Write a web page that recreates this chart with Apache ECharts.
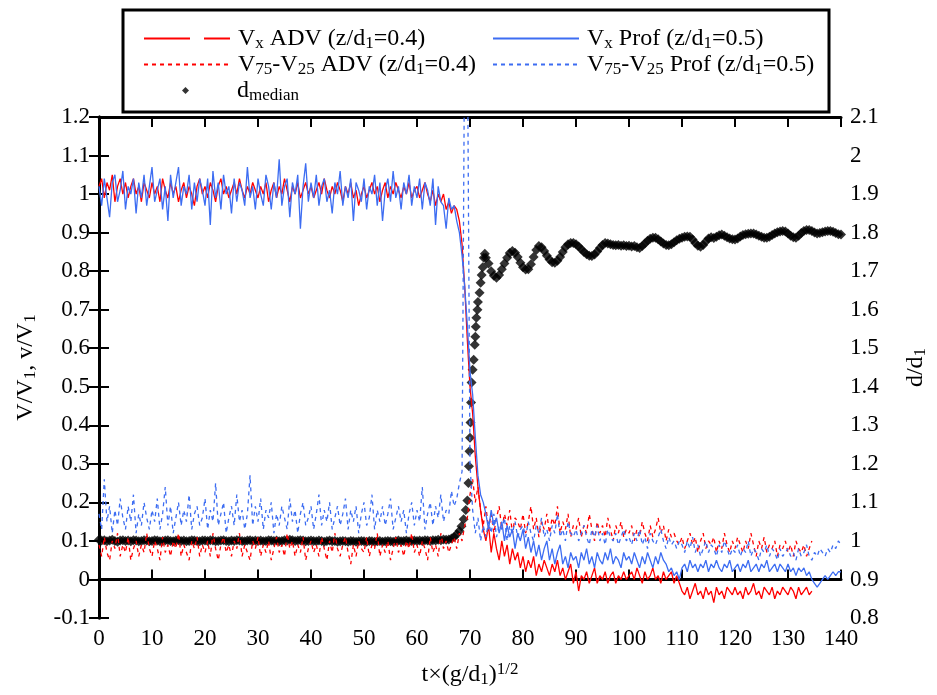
<!DOCTYPE html>
<html lang="en">
<head>
    <meta charset="UTF-8">
    <title>Vx and d/d1 versus time</title>
</head>
<script src="https://cdn.jsdelivr.net/npm/echarts@6/dist/echarts.min.js"></script>
<body style="margin:0">
<div id="main" style="width: 937px;height:695px;"></div>
<script type="text/javascript">
    // sampling of the velocity records: start and step in t(g/d1)^1/2
    var T0 = 0, DT = 0.5;

    // Vx Prof (z/d1=0.5), t = 0 .. 140
    var vxProf = [
        1.02, 0.97, 1.04, 0.99, 0.94, 1.03, 1.05, 0.98, 1.01, 1.06, 0.96, 1.02, 1.00, 1.04, 0.95, 1.03, 0.99, 1.05, 0.97, 1.02,
        1.07, 0.98, 1.01, 1.04, 0.96, 1.02, 0.93, 1.05, 0.99, 1.03, 1.07, 0.97, 1.02, 1.00, 1.05, 0.96, 1.03, 0.98, 1.04, 1.01,
        0.97, 1.04, 0.92, 1.06, 0.99, 1.03, 0.96, 1.05, 1.00, 1.02, 0.95, 1.04, 0.98, 1.03, 1.01, 0.97, 1.07, 0.99, 1.02, 0.96,
        1.04, 1.00, 0.97, 1.05, 1.02, 0.96, 1.03, 0.99, 1.09, 0.97, 1.02, 1.04, 0.94, 1.03, 1.00, 1.05, 0.91, 1.02, 1.08, 0.98,
        1.03, 0.99, 1.05, 0.97, 1.02, 1.04, 0.98, 1.01, 0.95, 1.03, 1.00, 1.06, 0.97, 1.02, 0.99, 1.04, 0.93, 1.03, 1.01, 0.98,
        1.04, 0.96, 1.02, 1.00, 1.05, 0.97, 1.03, 0.93, 1.01, 1.04, 0.98, 1.06, 0.99, 1.02, 0.96, 1.03, 1.00, 1.05, 0.97, 1.02,
        0.99, 1.04, 0.96, 1.03, 1.01, 0.97, 1.04, 0.92, 1.02, 0.98, 0.97, 0.91, 0.99, 0.96, 0.97, 0.93, 0.90, 0.84, 0.76, 0.66,
        0.54, 0.48, 0.37, 0.27, 0.22, 0.20, 0.17, 0.13, 0.18, 0.14, 0.16, 0.12, 0.15, 0.10, 0.14, 0.11, 0.13, 0.08, 0.12, 0.10,
        0.13, 0.08, 0.11, 0.07, 0.10, 0.06, 0.09, 0.05, 0.08, 0.10, 0.05, 0.08, 0.04, 0.07, 0.09, 0.04, 0.06, 0.03, 0.07, 0.05,
        0.06, 0.03, 0.07, 0.05, 0.08, 0.04, 0.06, 0.03, 0.07, 0.05, 0.04, 0.07, 0.05, 0.08, 0.04, 0.06, 0.05, 0.03, 0.07, 0.05,
        0.06, 0.04, 0.07, 0.05, 0.03, 0.06, 0.04, 0.07, 0.05, 0.03, 0.06, 0.04, 0.07, 0.05, 0.04, 0.02, 0.03, 0.01, 0.02, 0.00,
        0.03, 0.04, 0.02, 0.05, 0.03, 0.04, 0.02, 0.04, 0.03, 0.05, 0.02, 0.04, 0.03, 0.05, 0.03, 0.02, 0.04, 0.03, 0.05, 0.02,
        0.03, 0.04, 0.02, 0.04, 0.03, 0.05, 0.02, 0.03, 0.04, 0.02, 0.04, 0.03, 0.05, 0.02, 0.03, 0.04, 0.02, 0.04, 0.03, 0.02,
        0.04, 0.02, 0.03, 0.01, 0.03, 0.02, 0.03, 0.01, 0.02, 0.00, -0.01, -0.02, -0.01, 0.00, 0.01, 0.00, 0.01, 0.02, 0.01, 0.02,
        0.02
    ];

    // Vx ADV (z/d1=0.4), t = 0 .. 134.5
    var vxAdv = [
        1.02, 1.04, 0.99, 1.03, 1.01, 1.05, 0.98, 1.02, 1.04, 1.00, 1.03, 0.99, 1.02, 1.04, 1.00, 1.02, 0.98, 1.03, 1.01, 0.99,
        1.03, 1.00, 1.02, 0.98, 1.04, 1.01, 0.99, 1.03, 1.00, 1.02, 0.98, 1.01, 1.03, 0.99, 1.02, 1.00, 0.97, 1.02, 1.04, 1.00,
        1.02, 0.99, 1.03, 1.01, 0.98, 1.02, 1.04, 1.00, 1.02, 0.99, 1.01, 1.03, 1.00, 1.04, 1.01, 0.99, 1.02, 1.00, 1.03, 1.01,
        0.99, 1.02, 1.00, 1.03, 0.98, 1.01, 1.03, 0.99, 1.02, 1.00, 1.04, 1.01, 0.98, 1.02, 1.00, 1.03, 0.99, 1.01, 1.03, 1.00,
        1.02, 0.99, 1.01, 1.03, 1.00, 1.04, 1.01, 0.99, 1.02, 1.00, 1.03, 1.01, 0.98, 1.02, 1.00, 1.03, 0.99, 1.01, 0.97, 1.00,
        1.02, 0.99, 1.01, 1.03, 1.00, 1.02, 0.98, 1.01, 1.03, 0.99, 1.02, 1.00, 1.03, 1.01, 0.99, 1.02, 1.00, 1.03, 0.99, 1.01,
        1.02, 0.99, 1.01, 1.03, 1.00, 0.98, 1.01, 0.97, 1.00, 0.98, 1.00, 0.96, 0.98, 0.95, 0.97, 0.96, 0.93, 0.87, 0.76, 0.62,
        0.50, 0.43, 0.32, 0.24, 0.18, 0.13, 0.10, 0.14, 0.07, 0.12, 0.08, 0.05, 0.10, 0.06, 0.09, 0.04, 0.08, 0.05, 0.07, 0.03,
        0.06, 0.02, 0.05, 0.03, 0.06, 0.01, 0.04, 0.02, 0.05, 0.03, 0.01, 0.04, 0.02, 0.05, 0.01, 0.03, 0.00, 0.02, 0.04, -0.01,
        0.02, -0.03, 0.01, 0.00, 0.02, -0.01, 0.01, 0.03, -0.01, 0.01, 0.00, 0.02, -0.01, 0.01, 0.02, -0.01, 0.01, 0.00, 0.02, 0.00,
        0.01, 0.02, 0.00, 0.03, 0.01, -0.01, 0.02, 0.00, 0.01, 0.03, 0.00, 0.01, -0.01, 0.02, 0.00, 0.01, 0.02, -0.01, 0.01, -0.01,
        -0.03, -0.04, -0.02, -0.05, -0.03, -0.01, -0.04, -0.03, -0.05, -0.02, -0.04, -0.03, -0.06, -0.02, -0.04, -0.03, -0.05, -0.02, -0.03, -0.04,
        -0.02, -0.04, -0.03, -0.05, -0.02, -0.04, -0.03, -0.01, -0.04, -0.03, -0.05, -0.02, -0.03, -0.04, -0.02, -0.05, -0.03, -0.04, -0.02, -0.03,
        -0.04, -0.02, -0.03, -0.05, -0.02, -0.04, -0.03, -0.02, -0.04, -0.03
    ];

    // V75-V25 ADV (z/d1=0.4), t = 0 .. 134.5
    var iqrAdv = [
        0.09, 0.06, 0.11, 0.07, 0.05, 0.10, 0.08, 0.12, 0.06, 0.09, 0.07, 0.11, 0.05, 0.08, 0.10, 0.06, 0.09, 0.07, 0.12, 0.08,
        0.06, 0.10, 0.08, 0.05, 0.11, 0.07, 0.09, 0.06, 0.10, 0.08, 0.12, 0.06, 0.09, 0.07, 0.05, 0.10, 0.08, 0.11, 0.06, 0.09,
        0.07, 0.10, 0.06, 0.12, 0.08, 0.05, 0.09, 0.11, 0.07, 0.09, 0.06, 0.10, 0.08, 0.12, 0.06, 0.09, 0.07, 0.05, 0.10, 0.08,
        0.11, 0.06, 0.09, 0.07, 0.10, 0.05, 0.08, 0.11, 0.07, 0.09, 0.06, 0.12, 0.08, 0.10, 0.06, 0.09, 0.07, 0.11, 0.05, 0.08,
        0.10, 0.07, 0.09, 0.06, 0.11, 0.08, 0.05, 0.10, 0.07, 0.12, 0.08, 0.06, 0.09, 0.11, 0.07, 0.04, 0.09, 0.06, 0.10, 0.08,
        0.07, 0.11, 0.06, 0.09, 0.08, 0.12, 0.06, 0.09, 0.07, 0.10, 0.05, 0.08, 0.11, 0.07, 0.09, 0.06, 0.10, 0.08, 0.12, 0.07,
        0.09, 0.06, 0.10, 0.08, 0.05, 0.11, 0.07, 0.09, 0.06, 0.12, 0.08, 0.10, 0.07, 0.09, 0.11, 0.08, 0.12, 0.10, 0.14, 0.16,
        0.22, 0.26, 0.20, 0.24, 0.18, 0.14, 0.19, 0.13, 0.17, 0.12, 0.16, 0.19, 0.13, 0.17, 0.14, 0.18, 0.12, 0.16, 0.15, 0.13,
        0.17, 0.12, 0.15, 0.19, 0.13, 0.16, 0.11, 0.15, 0.13, 0.17, 0.12, 0.16, 0.14, 0.19, 0.12, 0.15, 0.13, 0.17, 0.11, 0.14,
        0.13, 0.16, 0.11, 0.14, 0.12, 0.17, 0.13, 0.10, 0.15, 0.12, 0.14, 0.11, 0.16, 0.13, 0.10, 0.14, 0.12, 0.15, 0.11, 0.13,
        0.12, 0.14, 0.10, 0.13, 0.11, 0.15, 0.12, 0.10, 0.14, 0.11, 0.13, 0.16, 0.12, 0.14, 0.10, 0.13, 0.11, 0.12, 0.10, 0.09,
        0.11, 0.08, 0.10, 0.12, 0.09, 0.11, 0.07, 0.10, 0.12, 0.08, 0.10, 0.09, 0.11, 0.07, 0.10, 0.08, 0.12, 0.09, 0.07, 0.10,
        0.08, 0.11, 0.09, 0.07, 0.10, 0.08, 0.12, 0.09, 0.06, 0.10, 0.08, 0.11, 0.07, 0.09, 0.08, 0.10, 0.06, 0.09, 0.08, 0.10,
        0.07, 0.09, 0.06, 0.10, 0.08, 0.07, 0.09, 0.06, 0.08, 0.10
    ];

    // V75-V25 Prof (z/d1=0.5), t = 0 .. 140 (spike near t = 69 leaves the frame)
    var iqrProf = [
        0.17, 0.13, 0.26, 0.15, 0.19, 0.12, 0.18, 0.14, 0.21, 0.16, 0.13, 0.19, 0.15, 0.22, 0.12, 0.17, 0.14, 0.20, 0.16, 0.13,
        0.18, 0.15, 0.21, 0.13, 0.17, 0.24, 0.14, 0.19, 0.12, 0.16, 0.20, 0.14, 0.18, 0.15, 0.22, 0.13, 0.17, 0.19, 0.14, 0.16,
        0.21, 0.13, 0.18, 0.15, 0.25, 0.14, 0.17, 0.20, 0.12, 0.16, 0.19, 0.14, 0.22, 0.15, 0.18, 0.13, 0.17, 0.27, 0.14, 0.19,
        0.15, 0.21, 0.13, 0.18, 0.16, 0.20, 0.12, 0.17, 0.14, 0.19, 0.16, 0.13, 0.21, 0.15, 0.18, 0.12, 0.17, 0.20, 0.14, 0.16,
        0.19, 0.13, 0.17, 0.22, 0.14, 0.18, 0.15, 0.20, 0.13, 0.16, 0.19, 0.14, 0.17, 0.21, 0.13, 0.18, 0.15, 0.19, 0.12, 0.17,
        0.20, 0.14, 0.16, 0.22, 0.13, 0.18, 0.15, 0.19, 0.14, 0.17, 0.21, 0.13, 0.16, 0.19, 0.15, 0.18, 0.12, 0.17, 0.20, 0.14,
        0.18, 0.15, 0.24, 0.13, 0.17, 0.20, 0.14, 0.19, 0.16, 0.22, 0.15, 0.18, 0.17, 0.23, 0.19, 0.21, 0.25, 0.28, 1.45, 1.45,
        0.30, 0.18, 0.12, 0.16, 0.10, 0.14, 0.11, 0.15, 0.12, 0.17, 0.11, 0.14, 0.13, 0.16, 0.10, 0.14, 0.12, 0.15, 0.11, 0.13,
        0.14, 0.11, 0.15, 0.12, 0.10, 0.14, 0.12, 0.16, 0.11, 0.13, 0.10, 0.14, 0.12, 0.17, 0.11, 0.13, 0.10, 0.15, 0.12, 0.11,
        0.13, 0.10, 0.12, 0.14, 0.11, 0.09, 0.13, 0.11, 0.14, 0.10, 0.12, 0.09, 0.13, 0.11, 0.10, 0.12, 0.09, 0.11, 0.13, 0.10,
        0.11, 0.09, 0.12, 0.10, 0.13, 0.09, 0.11, 0.08, 0.12, 0.10, 0.09, 0.11, 0.13, 0.10, 0.08, 0.11, 0.09, 0.10, 0.08, 0.10,
        0.09, 0.07, 0.10, 0.08, 0.11, 0.07, 0.09, 0.06, 0.08, 0.10, 0.07, 0.09, 0.08, 0.06, 0.09, 0.07, 0.10, 0.08, 0.06, 0.08,
        0.07, 0.09, 0.06, 0.08, 0.07, 0.10, 0.06, 0.08, 0.07, 0.05, 0.08, 0.07, 0.09, 0.06, 0.08, 0.07, 0.05, 0.08, 0.06, 0.07,
        0.08, 0.06, 0.07, 0.05, 0.08, 0.06, 0.07, 0.09, 0.06, 0.05, 0.07, 0.06, 0.08, 0.07, 0.06, 0.08, 0.07, 0.09, 0.08, 0.10,
        0.09
    ];

    // d_median / d1 (right axis): quiet part t = 0 .. 65.5
    var dBase = [
        1.003, 1.001, 1.002, 0.999, 1.001, 1.003, 1.000, 0.998, 1.001, 1.002, 1.000, 1.001, 0.999, 1.002, 1.001, 0.999, 1.000, 1.002, 1.001, 0.999,
        1.000, 1.002, 1.001, 0.999, 1.000, 1.001, 1.002, 1.000, 0.999, 1.001, 1.002, 1.000, 1.001, 0.999, 1.000, 1.002, 1.001, 1.000, 0.999, 1.001,
        1.001, 1.000, 1.002, 1.001, 0.999, 1.000, 1.001, 1.002, 1.000, 0.999, 1.001, 1.000, 1.002, 1.001, 1.000, 0.999, 1.001, 1.002, 1.000, 1.001,
        1.000, 1.001, 0.999, 1.000, 1.002, 1.001, 1.000, 1.001, 0.999, 1.000, 1.002, 1.001, 1.003, 1.002, 1.000, 1.001, 1.002, 1.001, 0.999, 1.000,
        1.001, 1.000, 0.999, 1.001, 1.000, 0.998, 1.000, 1.001, 0.999, 1.000, 0.998, 0.999, 1.000, 0.999, 0.998, 1.000, 0.999, 0.998, 0.999, 1.000,
        0.999, 0.998, 1.000, 0.999, 0.998, 0.999, 1.000, 0.998, 0.999, 1.000, 0.999, 0.998, 1.000, 1.001, 0.999, 1.000, 1.001, 0.999, 1.000, 1.001,
        1.000, 1.001, 1.000, 1.002, 1.001, 1.000, 1.002, 1.001, 1.003, 1.002, 1.004, 1.003
    ];
    // the rise of d_median, read point by point
    var dRiseT = [66, 66.5, 67, 67.5, 68, 68.4, 68.8, 69.2, 69.5, 69.7, 69.8, 69.9, 70.0, 70.1, 70.2, 70.3, 70.5, 70.7,
                  70.9, 71.0, 71.1, 71.2, 71.4, 71.5, 71.8, 72.0, 72.2, 72.4, 72.6, 72.8];
    var dRiseV = [1.004, 1.006, 1.010, 1.017, 1.026, 1.038, 1.056, 1.080, 1.105, 1.150, 1.194, 1.233, 1.268, 1.307, 1.359, 1.411, 1.444, 1.470,
                  1.509, 1.530, 1.556, 1.579, 1.600, 1.620, 1.644, 1.670, 1.690, 1.710, 1.735, 1.745];
    // after the rise, t = 73 .. 140
    var DT0_TAIL = 73;
    var dTail = [
        1.735, 1.720, 1.700, 1.688, 1.683, 1.690, 1.705, 1.720, 1.735, 1.747,
        1.752, 1.748, 1.737, 1.722, 1.710, 1.704, 1.705, 1.718, 1.737, 1.755,
        1.765, 1.762, 1.752, 1.740, 1.730, 1.723, 1.722, 1.727, 1.737, 1.750,
        1.762, 1.770, 1.773, 1.773, 1.770, 1.764, 1.757, 1.750, 1.744, 1.740,
        1.739, 1.743, 1.751, 1.760, 1.768, 1.773, 1.772, 1.770, 1.768, 1.767,
        1.768, 1.766, 1.767, 1.765, 1.766, 1.764, 1.765, 1.762, 1.760, 1.765,
        1.772, 1.779, 1.784, 1.787, 1.787, 1.783, 1.777, 1.772, 1.768, 1.767,
        1.770, 1.775, 1.780, 1.784, 1.787, 1.789, 1.790, 1.789, 1.782, 1.773,
        1.766, 1.763, 1.768, 1.777, 1.785, 1.788, 1.786, 1.789, 1.793, 1.795,
        1.792, 1.788, 1.785, 1.783, 1.782, 1.785, 1.790, 1.794, 1.796, 1.797,
        1.798, 1.798, 1.795, 1.792, 1.789, 1.787, 1.787, 1.789, 1.794, 1.798,
        1.801, 1.803, 1.804, 1.803, 1.798, 1.792, 1.788, 1.787, 1.792, 1.799,
        1.804, 1.807, 1.807, 1.804, 1.800, 1.798, 1.799, 1.801, 1.803, 1.804,
        1.804, 1.802, 1.799, 1.796, 1.795
    ];

    var FONT = 'Liberation Serif';
    var RED = '#ff0000', BLUE = '#3d6df2';

    function pairs(vals, t0, dt) {
        return vals.map(function (v, i) { return [t0 + i * dt, v]; });
    }
    var dMedian = pairs(dBase, T0, DT)
        .concat(dRiseT.map(function (t, i) { return [t, dRiseV[i]]; }))
        .concat(pairs(dTail, DT0_TAIL, DT));

    // legend labels with sub/superscripts
    var labels = {
        'Vx ADV': 'V{sub|x} ADV (z/d{sub|1}=0.4)',
        'Vx Prof': 'V{sub|x} Prof (z/d{sub|1}=0.5)',
        'V75 ADV': 'V{sub|75}-V{sub|25} ADV (z/d{sub|1}=0.4)',
        'V75 Prof': 'V{sub|75}-V{sub|25} Prof (z/d{sub|1}=0.5)',
        'dmedian': 'd{sub|median}'
    };
    var rich = {
        sub: {fontFamily: FONT, fontSize: 17, lineHeight: 15, verticalAlign: 'bottom', color: '#000'},
        sup: {fontFamily: FONT, fontSize: 17, lineHeight: 15, verticalAlign: 'top', color: '#000'}
    };
    var txt = {fontFamily: FONT, fontSize: 24, lineHeight: 27, color: '#000', rich: rich};

    var myChart = echarts.init(document.getElementById('main'));

    var axisCommon = {
        axisLine: {show: true, lineStyle: {color: '#000', width: 3}},
        axisTick: {show: true, inside: true, length: 10, lineStyle: {color: '#000', width: 2}},
        splitLine: {show: false},
        axisLabel: {fontFamily: FONT, fontSize: 23, color: '#000', margin: 9}
    };

    var legendCommon = {
        orient: 'vertical',
        top: 20,
        itemWidth: 86,
        itemHeight: 9,
        itemGap: -1,
        selectedMode: false,
        textStyle: Object.assign({}, txt, {padding: [0, 0, 0, 3]}),
        formatter: function (name) { return labels[name]; }
    };
    var noDot = {opacity: 0};

    option = {
        animation: false,
        backgroundColor: '#fff',
        grid: {left: 99, right: 87, top: 117, bottom: 77, containLabel: false},
        graphic: [{
            type: 'rect',
            shape: {x: 123, y: 10, width: 706, height: 102},
            style: {fill: 'rgba(0,0,0,0)', stroke: '#000', lineWidth: 3},
            z: 10
        }],
        legend: [
            Object.assign({}, legendCommon, {
                left: 138,
                data: [
                    {name: 'Vx ADV', itemStyle: noDot, lineStyle: {type: [46, 14]}},
                    {name: 'V75 ADV', itemStyle: noDot}
                ]
            }),
            Object.assign({}, legendCommon, {
                left: 487,
                data: [
                    {name: 'Vx Prof', itemStyle: noDot},
                    {name: 'V75 Prof', itemStyle: noDot}
                ]
            }),
            Object.assign({}, legendCommon, {
                left: 177,
                top: 72,
                itemWidth: 7,
                itemHeight: 7,
                textStyle: Object.assign({}, txt, {padding: [0, 0, 0, 43]}),
                data: [{name: 'dmedian', icon: 'diamond'}]
            })
        ],
        xAxis: [
            Object.assign({}, axisCommon, {
                type: 'value', min: 0, max: 140, interval: 10, position: 'bottom',
                name: 't×(g/d{sub|1}){sup|1/2}', nameLocation: 'middle', nameGap: 43,
                nameTextStyle: txt
            }),
            Object.assign({}, axisCommon, {
                type: 'value', min: 0, max: 140, interval: 10, position: 'top',
                axisLabel: {show: false}
            })
        ],
        yAxis: [
            Object.assign({}, axisCommon, {
                type: 'value', min: -0.1, max: 1.2, interval: 0.1, position: 'left',
                axisLabel: Object.assign({}, axisCommon.axisLabel, {
                    formatter: function (v) { return String(+v.toFixed(1)); }
                }),
                name: 'V/V{sub|1}, v/V{sub|1}', nameLocation: 'middle', nameGap: 60,
                nameTextStyle: txt
            }),
            Object.assign({}, axisCommon, {
                type: 'value', min: 0.8, max: 2.1, interval: 0.1, position: 'right',
                axisLabel: Object.assign({}, axisCommon.axisLabel, {
                    formatter: function (v) { return String(+v.toFixed(1)); }
                }),
                name: 'd/d{sub|1}', nameLocation: 'middle', nameGap: 61,
                nameTextStyle: txt
            })
        ],
        series: [
            {
                name: 'Vx ADV', type: 'line', data: pairs(vxAdv, T0, DT),
                showSymbol: false, symbol: 'none', color: RED,
                lineStyle: {color: RED, width: 1.3}
            },
            {
                name: 'V75 ADV', type: 'line', data: pairs(iqrAdv, T0, DT),
                showSymbol: false, symbol: 'none', color: RED,
                lineStyle: {color: RED, width: 1.3, type: [4, 4]}
            },
            {
                name: 'Vx Prof', type: 'line', data: pairs(vxProf, T0, DT),
                showSymbol: false, symbol: 'none', color: BLUE,
                lineStyle: {color: BLUE, width: 1.3}
            },
            {
                name: 'V75 Prof', type: 'line', data: pairs(iqrProf, T0, DT),
                showSymbol: false, symbol: 'none', color: BLUE,
                lineStyle: {color: BLUE, width: 1.3, type: [4, 4]}
            },
            {
                name: 'dmedian', type: 'scatter', yAxisIndex: 1, data: dMedian,
                symbol: 'diamond', symbolSize: [10, 10],
                itemStyle: {color: '#000'}
            }
        ]
    };

    myChart.setOption(option);
</script>
</body>
</html>
